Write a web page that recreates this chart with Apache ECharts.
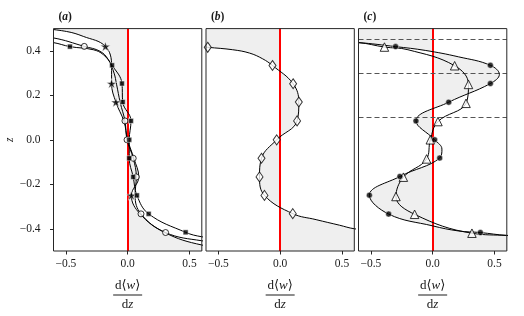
<!DOCTYPE html>
<html><head><meta charset="utf-8">
<script src="https://cdn.jsdelivr.net/npm/echarts@6/dist/echarts.min.js"></script>
<style>html,body{margin:0;padding:0;background:#fff}#c{width:524px;height:316px}</style>
</head><body><div id="c"></div>
<script>
// ---------- tick labels ----------
const xTickValues = [-0.5, 0, 0.5];
const xTickLabels = ['\u22120.5', '0.0', '0.5'];
const yTickValues = [-0.4, -0.2, 0, 0.2, 0.4];
const yTickLabels = ['\u22120.4', '\u22120.2', '0.0', '0.2', '0.4'];
const panelLetters = ['a', 'b', 'c'];
const zeroLineX = 0;
const dashedLevelsC = [0.45, 0.3, 0.1];

// ---------- panel (a) : curves [x, z] ----------
const aStarCurve = [[-0.75,0.505],[-0.494,0.487],[-0.359,0.465],[-0.18,0.42],[-0.13,0.333],[-0.13,0.253],[-0.095,0.169],[-0.03,0.083],[0.0,0.0],[0.05,-0.083],[0.09,-0.167],[0.03,-0.25],[0.10,-0.333],[0.30,-0.417],[0.6,-0.473],[0.9,-0.49]];
const aSquareCurve = [[-0.85,0.455],[-0.6,0.437],[-0.467,0.419],[-0.278,0.405],[-0.197,0.383],[-0.126,0.335],[-0.046,0.253],[-0.04,0.17],[0.027,0.085],[0.013,0.0],[0.013,-0.083],[0.045,-0.167],[0.075,-0.25],[0.17,-0.333],[0.469,-0.416],[0.6,-0.436],[0.85,-0.455]];
const aCircleCurve = [[-0.9,0.475],[-0.6,0.458],[-0.351,0.42],[-0.223,0.398],[-0.157,0.361],[-0.11,0.3],[-0.09,0.25],[-0.06,0.167],[-0.022,0.085],[-0.005,0.0],[0.045,-0.083],[0.07,-0.167],[0.06,-0.25],[0.108,-0.333],[0.307,-0.417],[0.6,-0.454],[0.9,-0.47]];
// markers
const aSquares = [[-0.467,0.419],[-0.126,0.335],[-0.046,0.253],[-0.04,0.17],[0.027,0.085],[0.013,0.0],[0.013,-0.083],[0.045,-0.167],[0.075,-0.25],[0.17,-0.333],[0.469,-0.416]];
const aCircles = [[-0.351,0.42],[-0.022,0.085],[-0.005,0.0],[0.045,-0.083],[0.07,-0.167],[0.108,-0.333],[0.307,-0.417]];
const aStars = [[-0.18,0.42],[-0.13,0.253],[-0.095,0.169],[0.03,-0.25]];

// ---------- panel (b) ----------
const bCurve = [[-1.0,0.44],[-0.586,0.416],[-0.384,0.405],[-0.248,0.39],[-0.141,0.364],[-0.062,0.334],[0.105,0.252],[0.151,0.170],[0.137,0.085],[-0.028,0.0],[-0.151,-0.083],[-0.167,-0.167],[-0.127,-0.25],[0.102,-0.332],[0.291,-0.359],[0.48,-0.384],[0.6,-0.40],[0.9,-0.42]];
const bDiamonds = [[-0.586,0.416],[-0.062,0.334],[0.105,0.252],[0.151,0.170],[0.137,0.085],[-0.028,0.0],[-0.151,-0.083],[-0.167,-0.167],[-0.127,-0.25],[0.102,-0.332]];

// ---------- panel (c) ----------
const cDotCurve = [[-1.2,0.455],[-0.6,0.437],[-0.30,0.419],[-0.06,0.402],[0.21,0.373],[0.467,0.335],[0.54,0.294],[0.467,0.253],[0.13,0.169],[-0.135,0.085],[0.016,0.0],[0.075,-0.042],[0.057,-0.082],[-0.265,-0.165],[-0.512,-0.249],[-0.356,-0.334],[0.0,-0.387],[0.21,-0.41],[0.386,-0.417],[0.6,-0.43],[1.2,-0.445]];
const cTriCurve = [[-1.2,0.455],[-0.6,0.437],[-0.39,0.417],[-0.2,0.405],[0.178,0.333],[0.29,0.249],[0.27,0.164],[0.043,0.082],[-0.019,0.0],[-0.049,-0.086],[-0.237,-0.168],[-0.297,-0.255],[-0.146,-0.335],[0.318,-0.42],[0.6,-0.43],[1.2,-0.445]];
const cDots = [[-0.30,0.419],[0.467,0.335],[0.467,0.253],[0.13,0.169],[-0.135,0.085],[0.016,0.0],[0.057,-0.082],[-0.265,-0.165],[-0.512,-0.249],[-0.356,-0.334],[0.386,-0.417]];
const cTriangles = [[-0.39,0.417],[0.178,0.333],[0.29,0.249],[0.27,0.164],[0.043,0.082],[-0.019,0.0],[-0.049,-0.086],[-0.237,-0.168],[-0.297,-0.255],[-0.146,-0.335],[0.318,-0.42]];

// ---------- styling ----------
const SERIF = "'Liberation Serif','DejaVu Serif',serif";
const TXT = '#1a1a1a';
const FRAME = '#262626';
const FILL = '#efefef';
const SMOOTH = 0.4;
const STAR = 'path://M50,0 L61.2,34.5 L97.6,34.5 L68.2,55.9 L79.4,90.5 L50,69.1 L20.6,90.5 L31.8,55.9 L2.4,34.5 L38.8,34.5 Z';
const gridLeft = [53.5, 206, 358.5];
const GRID_TOP = 28.6, GRID_W = 148.3, GRID_H = 223.8;

function nearestLabel(vals, labels, v) {
  let bi = 0;
  vals.forEach((t, i) => { if (Math.abs(t - v) < Math.abs(vals[bi] - v)) bi = i; });
  return labels[bi];
}

const grids = gridLeft.map(l => ({left: l, top: GRID_TOP, width: GRID_W, height: GRID_H, show: true,
  borderColor: FRAME, borderWidth: 1, backgroundColor: 'transparent', z: 10}));

const fracName = '{n|d\u27E8}{i|w}{n|\u27E9}\n{bar| }\n{n|d}{i|z}';
const fracRich = {
  n: {fontFamily: SERIF, fontSize: 13, color: TXT, lineHeight: 15},
  i: {fontFamily: SERIF, fontSize: 13, fontStyle: 'italic', color: TXT, lineHeight: 15},
  bar: {width: 29, height: 1, backgroundColor: TXT, lineHeight: 4, fontSize: 1}
};

const xAxes = gridLeft.map((l, i) => ({
  type: 'value', gridIndex: i, min: -0.6, max: 0.6, position: 'bottom',
  axisLine: {show: false, onZero: false}, splitLine: {show: false},
  axisTick: {show: true, inside: false, length: 3.5, customValues: xTickValues, lineStyle: {color: FRAME, width: 1}},
  axisLabel: {show: true, customValues: xTickValues, margin: 7, fontFamily: SERIF, fontSize: 11.5, color: TXT,
    formatter: v => nearestLabel(xTickValues, xTickLabels, v)},
  name: fracName, nameLocation: 'middle', nameGap: 27,
  nameTextStyle: {align: 'center', verticalAlign: 'top', rich: fracRich}
}));

const yAxes = gridLeft.map((l, i) => ({
  type: 'value', gridIndex: i, min: -0.5, max: 0.5, position: 'left',
  axisLine: {show: false, onZero: false}, splitLine: {show: false},
  axisTick: {show: i === 0, inside: false, length: 3.5, customValues: yTickValues, lineStyle: {color: FRAME, width: 1}},
  axisLabel: {show: i === 0, customValues: yTickValues, margin: 13, fontFamily: SERIF, fontSize: 11.5, color: TXT,
    formatter: v => nearestLabel(yTickValues, yTickLabels, v)},
  name: i === 0 ? 'z' : '', nameLocation: 'middle', nameGap: 36, nameRotate: 90,
  nameTextStyle: {fontFamily: SERIF, fontStyle: 'italic', fontSize: 11.5, color: TXT}
}));

function fillSeries(i, curve) {
  return {
    type: 'custom', xAxisIndex: i, yAxisIndex: i, z: 1, clip: true, silent: true,
    data: [[0, 0]],
    renderItem: function (params, api) {
      const first = curve[0], last = curve[curve.length - 1];
      const pad = [[last[0], -0.6], [last[0], -0.7], [zeroLineX, -0.7], [zeroLineX, -0.6],
                   [zeroLineX, 0.6], [zeroLineX, 0.7], [first[0], 0.7], [first[0], 0.6]];
      const pts = curve.concat(pad).map(p => api.coord(p));
      return {type: 'polygon', shape: {points: pts, smooth: SMOOTH}, style: {fill: FILL, stroke: null}};
    }
  };
}

function curveSeries(i, curve, dash, marks) {
  const s = {
    type: 'line', xAxisIndex: i, yAxisIndex: i, data: curve, smooth: SMOOTH, symbol: 'none', showSymbol: false,
    silent: true, z: 3, clip: true,
    lineStyle: {color: '#000', width: 1, type: dash || 'solid'}
  };
  if (marks) s.markLine = marks;
  return s;
}

function markerSeries(i, pts, symbol, size, filled, z) {
  return {
    type: 'scatter', xAxisIndex: i, yAxisIndex: i, data: pts, symbol: symbol, symbolSize: size,
    symbolKeepAspect: true, silent: true, z: z || 4,
    itemStyle: filled ? {color: '#000', borderColor: '#fff', borderWidth: 0.6}
                      : {color: '#fff', borderColor: '#000', borderWidth: 1}
  };
}

function redLine(extra) {
  const data = [{xAxis: zeroLineX, lineStyle: {color: '#ff0000', width: 2, type: 'solid'}}];
  (extra || []).forEach(v => data.push({yAxis: v, lineStyle: {color: '#555', width: 1, type: [5, 3]}}));
  return {silent: true, symbol: 'none', label: {show: false}, z: 2, animation: false, data: data};
}

const series = [
  fillSeries(0, aStarCurve),
  curveSeries(0, aSquareCurve, 'solid', redLine()),
  curveSeries(0, aCircleCurve, 'solid'),
  curveSeries(0, aStarCurve, 'solid'),
  markerSeries(0, aCircles, 'circle', 6, false, 4),
  markerSeries(0, aStars, STAR, 10, true, 5),
  markerSeries(0, aSquares, 'rect', 5, true, 6),

  fillSeries(1, bCurve),
  curveSeries(1, bCurve, 'solid', redLine()),
  markerSeries(1, bDiamonds, 'diamond', [7, 10], false, 4),

  fillSeries(2, cDotCurve),
  curveSeries(2, cDotCurve, 'solid', redLine(dashedLevelsC)),
  curveSeries(2, cTriCurve, 'solid'),
  markerSeries(2, cTriangles, 'triangle', 8.5, false, 4),
  markerSeries(2, cDots, 'circle', 6, true, 5)
];

const titles = panelLetters.map((t, i) => ({
  text: '{p|(}{i|' + t + '}{p|)}', left: gridLeft[i], top: 6,
  textStyle: {rich: {
    p: {fontFamily: SERIF, fontSize: 11.5, color: TXT},
    i: {fontFamily: SERIF, fontSize: 11.5, fontStyle: 'italic', color: TXT}
  }}
}));

const chart = echarts.init(document.getElementById('c'), null, {renderer: 'canvas', width: 524, height: 316});
chart.setOption({
  animation: false,
  backgroundColor: '#fff',
  title: titles,
  grid: grids,
  xAxis: xAxes,
  yAxis: yAxes,
  series: series
});
</script></body></html>
